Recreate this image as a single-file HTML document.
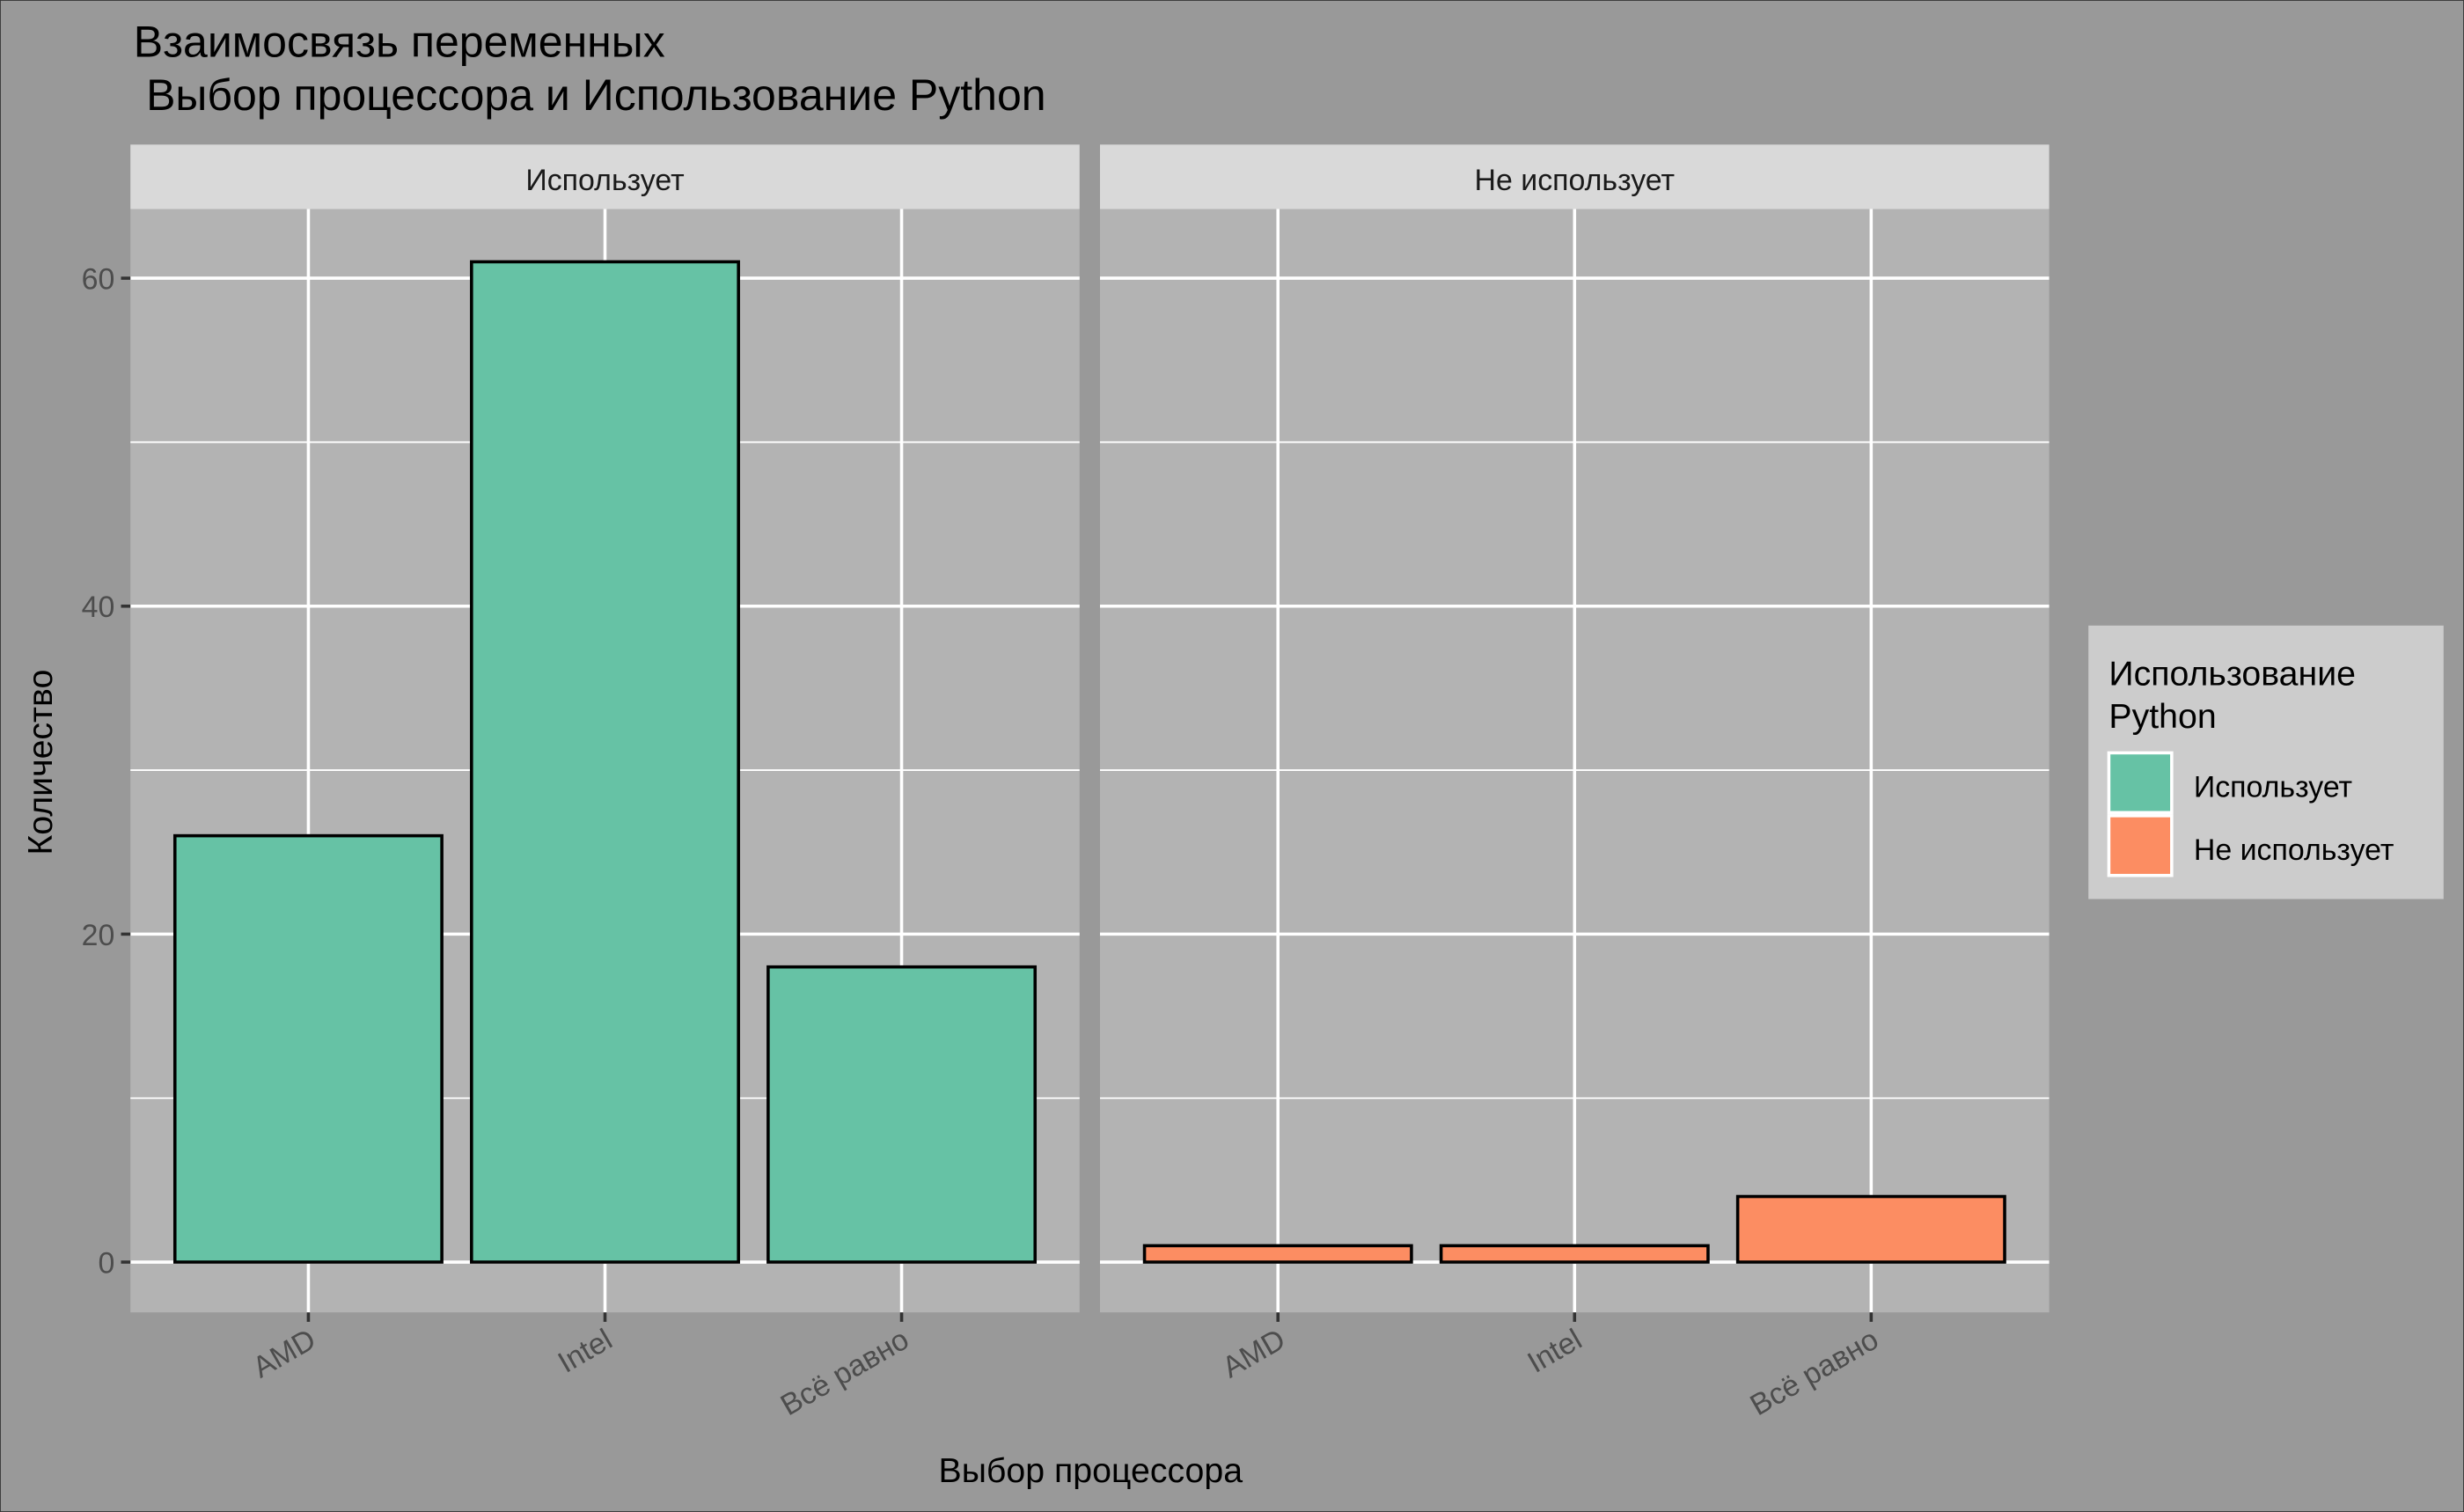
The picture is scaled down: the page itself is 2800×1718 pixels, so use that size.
<!DOCTYPE html>
<html><head><meta charset="utf-8"><style>
html,body{margin:0;padding:0;background:#999;}
svg{display:block;font-family:"Liberation Sans","DejaVu Sans",sans-serif;}
</style></head><body>
<svg id="chart" width="2800" height="1718" viewBox="0 0 1568 962" preserveAspectRatio="none" xmlns="http://www.w3.org/2000/svg">
<rect x="0" y="0" width="1568" height="962" fill="#999999" stroke="#333" stroke-width="1"/>
<text x="85" y="36" font-size="28" fill="#000">Взаимосвязь переменных</text>
<text x="93" y="70" font-size="28" fill="#000">Выбор процессора и Использование Python</text>
<text transform="translate(33,485) rotate(-90)" text-anchor="middle" font-size="22" fill="#000">Количество</text>
<text x="694" y="943" text-anchor="middle" font-size="22" fill="#000">Выбор процессора</text>
<g id="panels"></g>
<g>
<rect x="1329" y="398" width="226" height="174" fill="#cccccc"/>
<text x="1342" y="436" font-size="22" fill="#000">Использование</text>
<text x="1342" y="463" font-size="22" fill="#000">Python</text>
<rect x="1342" y="479" width="40" height="38" fill="#66c2a5" stroke="#fff" stroke-width="2"/>
<text x="1396" y="507" font-size="19" fill="#000">Использует</text>
<rect x="1342" y="519" width="40" height="38" fill="#fc8d62" stroke="#fff" stroke-width="2"/>
<text x="1396" y="547" font-size="19" fill="#000">Не использует</text>
</g>
</svg>
<script>
const categories = ["AMD", "Intel", "Всё равно"];
const facets = ["Использует", "Не использует"];
const usesValues = [26, 61, 18];
const notUsesValues = [1, 1, 4];
const yTicks = [0, 20, 40, 60];
const yMinorTicks = [10, 30, 50];

const NS = "http://www.w3.org/2000/svg";
const g = document.getElementById("panels");
const plotTop = 133, plotBottom = 835, panelW = 604;
const y0 = 803, unit = (803 - 177) / 60;
function yScale(v){ return y0 - v * unit; }
function mk(tag, attrs){ const e = document.createElementNS(NS, tag); for (const k in attrs) e.setAttribute(k, attrs[k]); g.appendChild(e); return e; }
const panelX = [83, 700];
const seriesList = [usesValues, notUsesValues];
const colors = ["#66c2a5", "#fc8d62"];
facets.forEach((f, p) => {
  const px = panelX[p];
  const step = panelW / (categories.length + 0.2);
  const xScale = i => px + step * (i + 0.6);
  let el = mk("rect", {x: px, y: plotTop, width: panelW, height: plotBottom - plotTop, fill: "#b3b3b3"});
  
  
  el = mk("rect", {x: px, y: 92, width: panelW, height: 41, fill: "#d9d9d9"});
  
  
  el = mk("text", {x: px + panelW / 2, y: 121, "text-anchor": "middle", "font-size": 19, fill: "#1a1a1a"});
  el.textContent = f;
  
  
  yMinorTicks.forEach(t => {
    el = mk("line", {x1: px, x2: px + panelW, y1: yScale(t), y2: yScale(t), stroke: "#fff", "stroke-width": 1});
    
    
  });
  yTicks.forEach(t => {
    el = mk("line", {x1: px, x2: px + panelW, y1: yScale(t), y2: yScale(t), stroke: "#fff", "stroke-width": 2});
    
    
  });
  categories.forEach((c, i) => {
    const cx = xScale(i);
    el = mk("line", {x1: cx, x2: cx, y1: plotTop, y2: plotBottom, stroke: "#fff", "stroke-width": 2});
    
    
  });
  categories.forEach((c, i) => {
    const cx = xScale(i), v = seriesList[p][i], bw = step * 0.9;
    el = mk("rect", {x: cx - bw / 2, y: yScale(v), width: bw, height: yScale(0) - yScale(v), fill: colors[p], stroke: "#000", "stroke-width": 2});
    
    
    el = mk("line", {x1: cx, x2: cx, y1: plotBottom, y2: plotBottom + 6, stroke: "#333", "stroke-width": 2});
    
    
    el = mk("text", {transform: "translate(" + (cx + 6) + "," + (856) + ") rotate(-30)", "text-anchor": "end", "font-size": 19, fill: "#4d4d4d"});
    el.textContent = c;
    
    
  });
});
yTicks.forEach(t => {
  let el = mk("line", {x1: 77, x2: 83, y1: yScale(t), y2: yScale(t), stroke: "#333", "stroke-width": 2});
  
  
  el = mk("text", {x: 73, y: yScale(t) + 7, "text-anchor": "end", "font-size": 19, fill: "#4d4d4d"});
  el.textContent = t;
  
  
});
</script>
</body></html>
